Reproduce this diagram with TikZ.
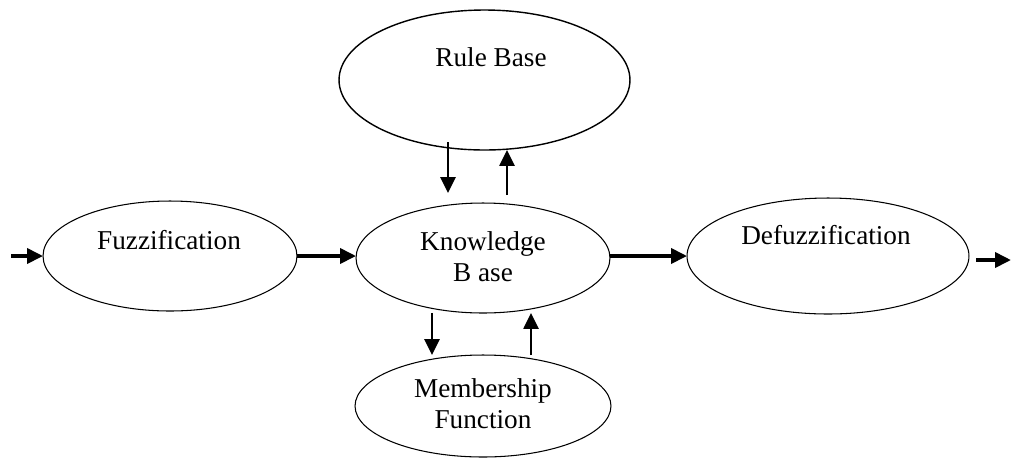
\documentclass[tikz,border=0pt]{standalone}
\usepackage{fontspec}
\setmainfont{Liberation Serif}
\usepackage{tikz}
\usetikzlibrary{arrows.meta,shapes.geometric,calc}

\begin{document}
\begin{tikzpicture}[
  x=0.02cm, y=-0.02cm,
  blob/.style={draw,ellipse,line width=0.6pt,inner sep=0pt,outer sep=0pt},
  lbl/.style={align=center,inner sep=0pt,font=\fontsize{15.5}{17.5}\selectfont},
  arr/.style={-{Triangle[length=0.32cm,width=0.3cm]},line width=2.1pt},
  varr/.style={-{Triangle[length=0.32cm,width=0.3cm]},line width=1.5pt}
]
\useasboundingbox (0,0) rectangle (1011,461);
\node[blob,line width=0.8pt,minimum width=5.82cm,minimum height=2.8cm] (rule) at (484.5,80) {};
\node[lbl] (ruletxt) at (491,57) {Rule Base};
\node[blob,minimum width=5.08cm,minimum height=2.2cm] (fuzz) at (170,256) {};
\node[lbl] (fuzztxt) at (169,240) {Fuzzification};
\node[blob,minimum width=5.08cm,minimum height=2.2cm] (kb) at (483,258) {};
\node[lbl] (kbtxt) at (483,257) {Knowledge\\B ase};
\node[blob,minimum width=5.64cm,minimum height=2.32cm] (defuzz) at (828,256) {};
\node[lbl] (defuzztxt) at (826,235) {Defuzzification};
\node[blob,minimum width=5.12cm,minimum height=2.04cm] (mf) at (483,406) {};
\node[lbl] (mftxt) at (483,404) {Membership\\Function};
% free ends
\coordinate (input) at (11,256);
\coordinate (output) at (1011,260);
\coordinate (rdown) at (448,142);
\coordinate (rdownend) at (448,193);
\coordinate (rup) at (507,195);
\coordinate (mfdown) at (432,0);
\coordinate (mfup) at (531,0);
% connectors
\draw[arr] (input) -- (fuzz.west);
\draw[arr] (fuzz.east) -- (kb.west |- fuzz.east);
\draw[arr] (kb.east |- defuzz.west) -- (defuzz.west);
\draw[arr,shorten <=4pt] (defuzz.east |- output) -- (output);
\draw[varr] (rdown) -- (rdownend);
\draw[varr] (rup) -- (rule.south -| rup);
\draw[varr] (kb.south -| mfdown) -- (mf.north -| mfdown);
\draw[varr] (mf.north -| mfup) -- (kb.south -| mfup);
\end{tikzpicture}
\end{document}
